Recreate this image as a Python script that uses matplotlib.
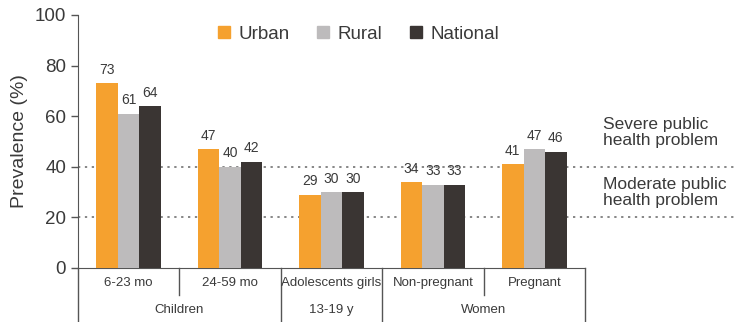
import matplotlib
matplotlib.use("Agg")
import matplotlib.pyplot as plt
import numpy as np
from matplotlib.lines import Line2D
import matplotlib.transforms as mtransforms

plt.rcParams['font.family'] = ['Liberation Sans', 'DejaVu Sans']

subgroups = ["6-23 mo", "24-59 mo", "Adolescents girls", "Non-pregnant", "Pregnant"]
groups = ["Children", "13-19 y", "Women"]
series = ["Urban", "Rural", "National"]
urban = [73, 47, 29, 34, 41]
rural = [61, 40, 30, 33, 47]
national = [64, 42, 30, 33, 46]
colors = ["#F5A12F", "#BDBBBC", "#3A3533"]
yticks = [0, 20, 40, 60, 80, 100]
thresholds = [20, 40]
threshold_labels = ["Moderate public\nhealth problem", "Severe public\nhealth problem"]

txt = "#3a3a3a"
fig = plt.figure(figsize=(7.4, 3.22), dpi=100)
ax = fig.add_axes([78/740, 54/322, 507/740, 253/322])

x = np.arange(len(subgroups))
w = 0.212
for i, (vals, c) in enumerate(zip([urban, rural, national], colors)):
    xs = x + (i - 1) * w
    ax.bar(xs, vals, width=w, color=c, zorder=3)
    for xi, v in zip(xs, vals):
        ax.text(xi, v + 2.5, str(v), ha='center', va='bottom', fontsize=10, color=txt)

ax.set_xlim(-0.5, 4.5)
ax.set_ylim(0, 100)
ax.set_yticks(yticks)
ax.tick_params(axis='y', labelsize=13.5, colors='#555555', labelcolor=txt, length=5, width=1)
ax.set_xticks([])
ax.set_ylabel("Prevalence (%)", fontsize=14, color=txt, labelpad=5)
for s in ['top', 'right']:
    ax.spines[s].set_visible(False)
for s in ['left', 'bottom']:
    ax.spines[s].set_color('#555555')

# threshold lines extending past axes
for t in thresholds:
    ax.plot([-0.5, 6.0], [t, t], linestyle=(0, (1.5, 3)), color='#666666', lw=1.1,
            clip_on=False, zorder=1)
text_x = 4.68
ax.text(text_x, 29.8, threshold_labels[0], fontsize=12.5, color=txt, va='center', ha='left',
        linespacing=1.1)
ax.text(text_x, 53.4, threshold_labels[1], fontsize=12.5, color=txt, va='center', ha='left',
        linespacing=1.1)

# multi-level x axis
trans = mtransforms.blended_transform_factory(ax.transData, ax.transAxes)
sub_y = (268 - 283) / 253
grp_y = (268 - 310) / 253
short_y = (268 - 295) / 253
full_y = (268 - 322) / 253
for xi, lab in zip(x, subgroups):
    ax.text(xi, sub_y, lab, transform=trans, ha='center', va='center', fontsize=9.5, color=txt)
group_centers = [0.5, 2, 3.5]
for gc, lab in zip(group_centers, groups):
    ax.text(gc, grp_y, lab, transform=trans, ha='center', va='center', fontsize=9.5, color=txt)
for b in [-0.5, 1.5, 2.5, 4.5]:
    ax.plot([b, b], [0, full_y], transform=trans, color='#555555', lw=1, clip_on=False)
for b in [0.5, 3.5]:
    ax.plot([b, b], [0, short_y], transform=trans, color='#555555', lw=1, clip_on=False)

handles = [Line2D([], [], marker='s', linestyle='none', markersize=8, color=c) for c in colors]
leg = ax.legend(handles, series, loc='center', bbox_to_anchor=(0.553, 0.925), ncol=3,
                frameon=False, fontsize=13.5, handlelength=0.7, handletextpad=0.4,
                columnspacing=1.45)
for t in leg.get_texts():
    t.set_color(txt)

fig.savefig("out.png", dpi=100)
